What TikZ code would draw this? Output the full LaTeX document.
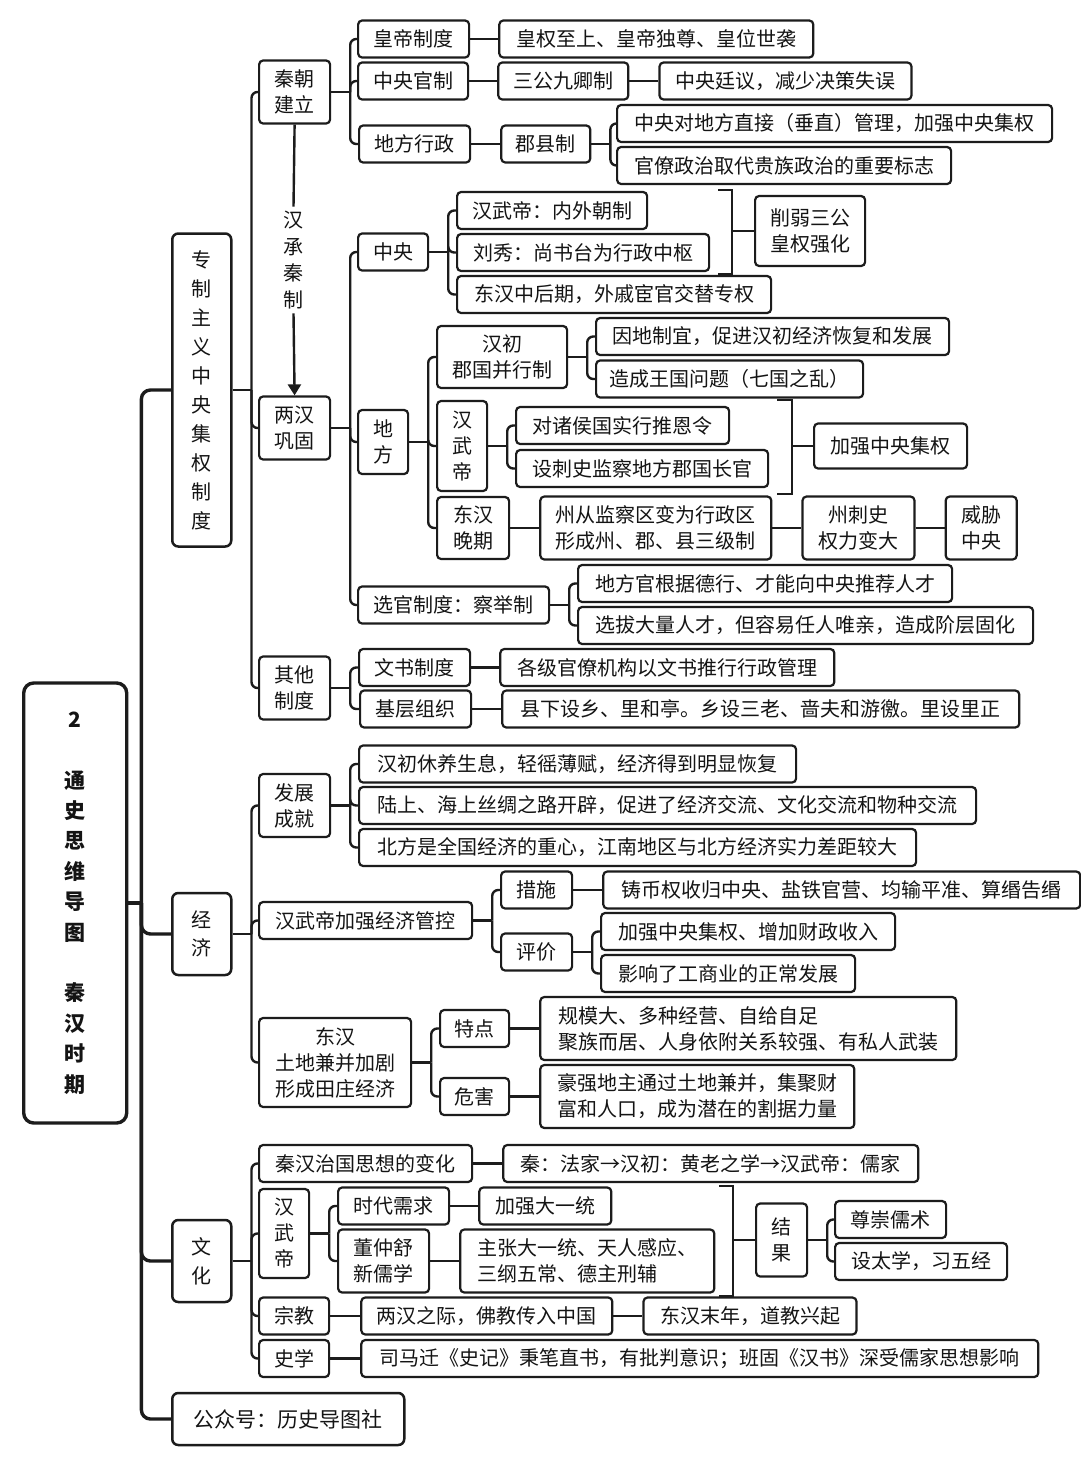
\documentclass[tikz,border=0pt]{standalone}
\usepackage{fontspec}
\setmainfont{Noto Sans CJK SC}
\usepackage{tikz}
\usetikzlibrary{arrows.meta,positioning,calc}
\definecolor{inkBlack}{RGB}{20, 20, 20}
\definecolor{inkLine}{RGB}{28, 28, 28}

\tikzset{
    mapbox/.style={draw=inkLine, line width=2.2pt, rounded corners=4pt, fill=white, text=inkBlack,
        anchor=west, inner sep=0pt, minimum height=37pt, align=center, font=\fontsize{20pt}{26pt}\selectfont},
    topicbox/.style={mapbox, line width=2.5pt, rounded corners=6pt, font=\fontsize{20pt}{29pt}\selectfont},
    rootbox/.style={draw=inkLine, line width=3.4pt, rounded corners=10pt, fill=white, text=inkBlack,
        anchor=west, inner sep=0pt, align=center, font=\fontsize{21pt}{30.4pt}\selectfont\bfseries},
    link/.style={draw=inkLine, line width=2.4pt, rounded corners=6pt},
    trunkline/.style={draw=inkLine, line width=3.4pt, rounded corners=9pt},
    brace/.style={draw=inkLine, line width=2.4pt},
}

\begin{document}
\begin{tikzpicture}[x=1pt, y=-1pt]
                \fill[white] (0,0) rectangle (1080,1467);
                \useasboundingbox (0,0) rectangle (1080,1467);

                \node[rootbox, minimum width=103pt, minimum height=440pt] (root) at (22,903)
                    {2\\[30.4pt]通\\史\\思\\维\\导\\图\\[30.4pt]秦\\汉\\时\\期};
                \node[topicbox, minimum width=59pt, minimum height=313pt] (zz) at (171,390)
                    {专\\制\\主\\义\\中\\央\\集\\权\\制\\度};
                \node[topicbox, minimum width=59pt, minimum height=82pt, font=\fontsize{20pt}{28pt}\selectfont] (jj) at (171,934) {经\\济};
                \node[topicbox, minimum width=59pt, minimum height=82pt] (wh) at (171,1261) {文\\化};
                \node[topicbox, minimum width=232pt, minimum height=52pt, font=\fontsize{21pt}{26pt}\selectfont] (gzh) at (171,1419) {公众号：历史导图社};

                % 专制主义中央集权制度
                \node[mapbox, minimum width=71pt, minimum height=63pt] (qin) at (258,92) {秦朝\\建立};
                \node[mapbox, minimum width=71pt, minimum height=63pt] (lh) at (258,428) {两汉\\巩固};
                \node[mapbox, minimum width=71pt, minimum height=63pt] (qt) at (258,688) {其他\\制度};
                \node[inner sep=4pt, align=center, text=inkBlack, font=\fontsize{20pt}{26.7pt}\selectfont] (hcqz) at (293.5,260) {汉\\承\\秦\\制};

                \node[mapbox, minimum width=111pt] (hdzd) at (357,39) {皇帝制度};
                \node[mapbox, minimum width=110pt] (zygz) at (357,81) {中央官制};
                \node[mapbox, minimum width=111pt] (dfxz) at (358,144) {地方行政};
                \node[mapbox, minimum width=314pt, right=28pt of hdzd] (hqzs) {皇权至上、皇帝独尊、皇位世袭};
                \node[mapbox, minimum width=130pt, right=28pt of zygz] (sgjq) {三公九卿制};
                \node[mapbox, minimum width=252pt, right=29pt of sgjq] (zyty) {中央廷议，减少决策失误};
                \node[mapbox, minimum width=89pt, right=29pt of dfxz] (jxz) {郡县制};
                \node[mapbox, minimum width=435pt] (zydf) at (616,123.5) {中央对地方直接（垂直）管理，加强中央集权};
                \node[mapbox, minimum width=334pt] (gltz) at (616,165.5) {官僚政治取代贵族政治的重要标志};

                \node[mapbox, minimum width=70pt] (zy) at (357,252) {中央};
                \node[mapbox, minimum width=50pt, minimum height=64pt] (df) at (357,442) {地\\方};
                \node[mapbox, minimum width=191pt] (xg) at (357,605) {选官制度：察举制};
                \node[mapbox, minimum width=190pt] (hwdn) at (456,210.5) {汉武帝：内外朝制};
                \node[mapbox, minimum width=252pt] (lx) at (456,252.5) {刘秀：尚书台为行政中枢};
                \node[mapbox, minimum width=314pt] (dhzh) at (456,294.5) {东汉中后期，外戚宦官交替专权};
                \node[mapbox, minimum width=110pt, minimum height=70pt] (xrsg) at (754,231) {削弱三公\\皇权强化};
                \node[mapbox, minimum width=130pt, minimum height=62pt] (hcjg) at (436,357) {汉初\\郡国并行制};
                \node[mapbox, minimum width=50pt, minimum height=90pt] (hwd) at (436,446) {汉\\武\\帝};
                \node[mapbox, minimum width=72pt, minimum height=62pt] (dhwq) at (436,528) {东汉\\晚期};
                \node[mapbox, minimum width=353pt] (ydzy) at (595,336.5) {因地制宜，促进汉初经济恢复和发展};
                \node[mapbox, minimum width=267pt] (zcwg) at (595,379) {造成王国问题（七国之乱）};
                \node[mapbox, minimum width=213pt] (dzhg) at (515,425.5) {对诸侯国实行推恩令};
                \node[mapbox, minimum width=252pt] (scs) at (515,468.5) {设刺史监察地方郡国长官};
                \node[mapbox, minimum width=153pt, minimum height=45pt] (jqzy) at (813,446) {加强中央集权};
                \node[mapbox, minimum width=231pt, minimum height=63pt, right=29pt of dhwq] (zcjc) {州从监察区变为行政区\\形成州、郡、县三级制};
                \node[mapbox, minimum width=112pt, minimum height=63pt, right=29pt of zcjc] (zcsq) {州刺史\\权力变大};
                \node[mapbox, minimum width=71pt, minimum height=63pt, right=29pt of zcsq] (wxzy) {威胁\\中央};
                \node[mapbox, minimum width=374pt] (dfg) at (577,583.5) {地方官根据德行、才能向中央推荐人才};
                \node[mapbox, minimum width=455pt] (xbdl) at (577,625.5) {选拔大量人才，但容易任人唯亲，造成阶层固化};

                \node[mapbox, minimum width=111pt] (wszd) at (358,667.5) {文书制度};
                \node[mapbox, minimum width=111pt] (jczz) at (359,709) {基层组织};
                \node[mapbox, minimum width=334pt, right=28pt of wszd] (gjgl) {各级官僚机构以文书推行行政管理};
                \node[mapbox, minimum width=517pt, right=29pt of jczz] (xxsx) {县下设乡、里和亭。乡设三老、啬夫和游徼。里设里正};

                % 经济
                \node[mapbox, minimum width=71pt, minimum height=63pt] (fzcj) at (258,805.5) {发展\\成就};
                \node[mapbox, minimum width=213pt] (hwdjj) at (258,920.5) {汉武帝加强经济管控};
                \node[mapbox, minimum width=152pt, minimum height=89pt] (dhtd) at (258,1062.5) {东汉\\土地兼并加剧\\形成田庄经济};
                \node[mapbox, minimum width=437pt] (hcxy) at (358,764) {汉初休养生息，轻徭薄赋，经济得到明显恢复};
                \node[mapbox, minimum width=617pt] (lshs) at (358,805.5) {陆上、海上丝绸之路开辟，促进了经济交流、文化交流和物种交流};
                \node[mapbox, minimum width=557pt] (bfsq) at (358,847.5) {北方是全国经济的重心，江南地区与北方经济实力差距较大};
                \node[mapbox, minimum width=71pt] (cs) at (500,890) {措施};
                \node[mapbox, minimum width=71pt] (pj) at (500,952) {评价};
                \node[mapbox, minimum width=477pt, right=29pt of cs] (zbq) {铸币权收归中央、盐铁官营、均输平准、算缗告缗};
                \node[mapbox, minimum width=294pt] (jqcz) at (600,931.5) {加强中央集权、增加财政收入};
                \node[mapbox, minimum width=254pt] (yxgs) at (600,973.5) {影响了工商业的正常发展};
                \node[mapbox, minimum width=69pt] (td) at (439,1028.5) {特点};
                \node[mapbox, minimum width=69pt] (wei) at (439,1096.5) {危害};
                \node[mapbox, minimum width=416pt, minimum height=63pt, align=left, right=29pt of td] (tdnr)
                    {规模大、多种经营、自给自足\\聚族而居、人身依附关系较强、有私人武装};
                \node[mapbox, minimum width=314pt, minimum height=63pt, align=left, right=29pt of wei] (wenr)
                    {豪强地主通过土地兼并，集聚财\\富和人口，成为潜在的割据力量};

                % 文化
                \node[mapbox, minimum width=213pt] (sxbh) at (258,1163.5) {秦汉治国思想的变化};
                \node[mapbox, minimum width=50pt, minimum height=89pt] (hwdw) at (258,1233.5) {汉\\武\\帝};
                \node[mapbox, minimum width=70pt] (zj) at (258,1316) {宗教};
                \node[mapbox, minimum width=70pt] (sx) at (258,1358.5) {史学};
                \node[mapbox, minimum width=415pt, right=29pt of sxbh] (fjhl) {秦：法家→汉初：黄老之学→汉武帝：儒家};
                \node[mapbox, minimum width=111pt] (sdxq) at (337,1206) {时代需求};
                \node[mapbox, minimum width=91pt, minimum height=63pt] (dzs) at (337,1261) {董仲舒\\新儒学};
                \node[mapbox, minimum width=132pt, right=28pt of sdxq] (jqdy) {加强大一统};
                \node[mapbox, minimum width=254pt, minimum height=63pt, align=left, right=29pt of dzs] (zzdy) {主张大一统、天人感应、\\三纲五常、德主刑辅};
                \node[mapbox, minimum width=51pt, minimum height=73pt] (jg) at (755,1240) {结\\果};
                \node[mapbox, minimum width=111pt] (zcrs) at (834,1219.5) {尊崇儒术};
                \node[mapbox, minimum width=172pt] (stx) at (834,1261.5) {设太学，习五经};
                \node[mapbox, minimum width=251pt, right=30pt of zj] (fjcr) {两汉之际，佛教传入中国};
                \node[mapbox, minimum width=213pt, right=29pt of fjcr] (djxq) {东汉末年，道教兴起};
                \node[mapbox, minimum width=677pt, right=30pt of sx] (smq) {司马迁《史记》秉笔直书，有批判意识；班固《汉书》深受儒家思想影响};

                \coordinate (trunk) at ($(root.east)+(13,0)$);
                \draw[trunkline] (root.east) -- (trunk);
                \foreach \n in {zz,jj,wh,gzh} \draw[trunkline] (trunk) |- (\n.west);

                \foreach \p/\kids in {zz/{qin,lh,qt}, qin/{hdzd,zygz,dfxz}, jxz/{zydf,gltz}, lh/{zy,df,xg},
                        zy/{hwdn,lx,dhzh}, df/{hcjg,hwd,dhwq}, hcjg/{ydzy,zcwg}, hwd/{dzhg,scs}, xg/{dfg,xbdl},
                        qt/{wszd,jczz}, jj/{fzcj,hwdjj,dhtd}, fzcj/{hcxy,lshs,bfsq}, hwdjj/{cs,pj}, pj/{jqcz,yxgs},
                        dhtd/{td,wei}, wh/{sxbh,hwdw,zj,sx}, hwdw/{sdxq,dzs}, jg/{zcrs,stx}} {
                    \draw[link] (\p.east) -- ++(19,0) coordinate (bus);
                    \foreach \c in \kids \draw[link] (bus) |- (\c.west);
                }
                \foreach \a/\b in {hdzd/hqzs, zygz/sgjq, sgjq/zyty, dfxz/jxz, dhwq/zcjc, zcjc/zcsq, zcsq/wxzy,
                        wszd/gjgl, jczz/xxsx, cs/zbq, td/tdnr, wei/wenr, sxbh/fjhl, sdxq/jqdy, dzs/zzdy,
                        zj/fjcr, fjcr/djxq, sx/smq}
                    \draw[link] (\a.east) -- (\b.west);

                \draw[link] (qin.south) -- (hcqz.north);
                \draw[link, -{Triangle[length=11pt,width=13pt]}] (hcqz.south) -- (lh.north);

                \coordinate (brA) at (732,231);
                \draw[brace] ($(brA)+(-14,-41)$) -- ++(14,0) -- ++(0,84) -- ++(-14,0);
                \draw[link] (brA) -- (xrsg.west);
                \coordinate (brB) at (792,446);
                \draw[brace] ($(brB)+(-15,-46)$) -- ++(15,0) -- ++(0,94) -- ++(-15,0);
                \draw[link] (brB) -- (jqzy.west);
                \coordinate (brC) at (733,1240);
                \draw[brace] ($(brC)+(-14,-54)$) -- ++(14,0) -- ++(0,110) -- ++(-14,0);
                \draw[link] (brC) -- (jg.west);
            \end{tikzpicture}
\end{document}
